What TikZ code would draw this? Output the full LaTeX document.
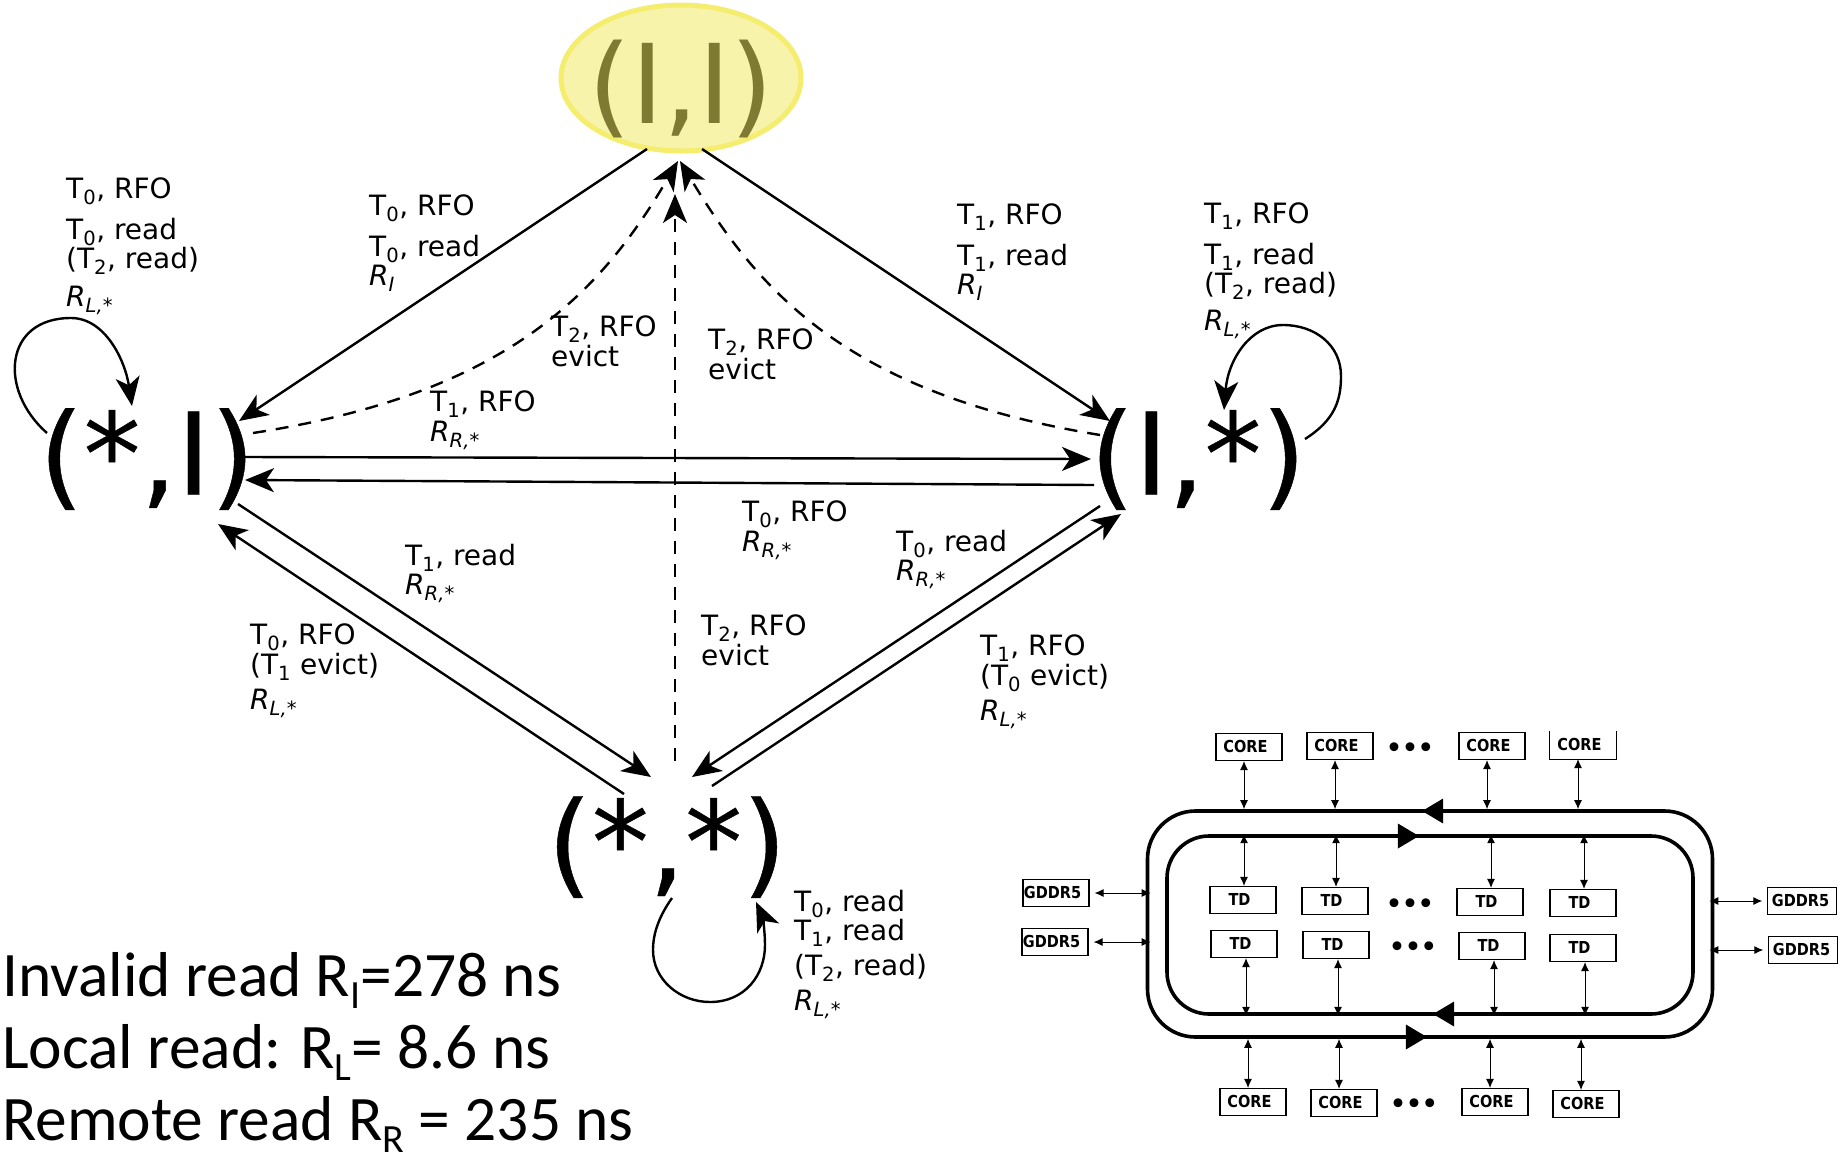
\documentclass[tikz,border=0pt]{standalone}
\usepackage{fontspec}
\setmainfont{DejaVu Sans}
\newfontfamily\notefont{Carlito}
\newfontfamily\boxfont[FakeStretch=0.88]{DejaVu Sans}
\newfontfamily\statefont[FakeBold=0.4]{DejaVu Sans}
\usetikzlibrary{arrows.meta,positioning,shapes.geometric}

\definecolor{glowedge}{HTML}{F5ED6E}
\definecolor{glowfill}{HTML}{F7F3AB}
\definecolor{glowtext}{HTML}{7F7A33}

\newcommand{\Tn}[1]{T\textsubscript{#1}}
\newcommand{\Rn}[1]{\textit{R\textsubscript{#1}}}
\newcommand{\Sn}[1]{\raisebox{-12pt}{\fontsize{40}{40}\selectfont #1}}

\tikzset{
    cpustate/.style={inner sep=0pt,font=\statefont\fontsize{114}{114}\selectfont},
    tran/.style={line width=2.4pt,-{Stealth[length=29pt,width=24pt,inset=8pt]}},
    evict/.style={tran,dash pattern=on 13pt off 10pt},
    lbl/.style={anchor=north west,inner sep=0pt,align=left,font=\fontsize{28}{29.5}\selectfont},
    partbox/.style={draw,line width=1.1pt,inner sep=0pt,minimum width=66pt,minimum height=27pt,
        text height=16pt,text depth=6pt,font=\boxfont\bfseries\fontsize{16.5}{16.5}\selectfont,
        execute at end node={\kern 7pt}},
    ringbox/.style={draw,line width=3.6pt,inner sep=0pt},
    ringtip/.style={isosceles triangle,isosceles triangle stretches,fill=black,inner sep=0pt,
        minimum width=25pt,minimum height=21pt},
    ellipsis/.style={inner sep=0pt,font=\bfseries\fontsize{25}{25}\selectfont},
    link/.style={line width=1pt,{Latex[length=9pt,width=8pt]}-{Latex[length=9pt,width=8pt]}}
}

\begin{document}
\begin{tikzpicture}[%
    x=1pt,y=-1pt,
    on grid
    ]
    \useasboundingbox (0,0) rectangle (1845,1160);

    % states
    \node[ellipse,draw=glowedge,fill=glowfill,line width=5pt,inner sep=0pt,
        minimum width=240pt,minimum height=146pt,
        label={[text=glowtext,inner sep=0pt,yshift=-11pt,font=\fontsize{110}{110}\selectfont]center:(I,I)}] (ii) at (681,78) {};
    \node[cpustate] (ci) [below left=381pt and 534pt of ii] {(*,I)};
    \node[cpustate] (ic) [right=1051pt of ci] {(I,*)};
    \node[cpustate] (cc) [below=769pt of ii,xshift=-14pt] {(*,*)};

    % transitions
    \draw[tran] ([shift={(-34,71)}]ii.center) -- ([shift={(92,-38)}]ci.center);
    \draw[tran] ([shift={(21,71)}]ii.center) -- ([shift={(-88,-38)}]ic.center);
    \draw[tran] ([shift={(98,-2)}]ci.center) -- ([shift={(-107,0)}]ic.center);
    \draw[tran] ([shift={(-104,26)}]ic.center) -- ([shift={(98,21)}]ci.center);
    \draw[tran] ([shift={(91,45)}]ci.center) -- ([shift={(-16,-70)}]cc.center);
    \draw[tran] ([shift={(-43,-53)}]cc.center) -- ([shift={(71,65)}]ci.center);
    \draw[tran] ([shift={(-98,47)}]ic.center) -- ([shift={(25,-70)}]cc.center);
    \draw[tran] ([shift={(45,-61)}]cc.center) -- ([shift={(-77,55)}]ic.center);

    % evictions
    \draw[evict] ([shift={(8,-86)}]cc.center) -- ([shift={(-6,116)}]ii.center);
    \draw[evict] ([shift={(106,-26)}]ci.center) .. controls (506,394) and (600,294) .. ([shift={(-3,83)}]ii.center);
    \draw[evict] ([shift={(-98,-24)}]ic.center) .. controls (850,394) and (760,294) .. ([shift={(-1,83)}]ii.center);

    % loops
    \draw[tran] ([shift={(-100,-26)}]ci.center) .. controls (-2,390) and (4,318) .. (71,318)
        .. controls (105,318) and (125,360) .. ([shift={(-15,-53)}]ci.center);
    \draw[tran] ([shift={(107,-20)}]ic.center) .. controls (1335,420) and (1341,400) .. (1341,376)
        .. controls (1341,345) and (1315,325) .. (1283,325)
        .. controls (1250,325) and (1228,360) .. ([shift={(26,-49)}]ic.center);
    \draw[tran] ([shift={(5,51)}]cc.center) .. controls (660,915) and (653,932) .. (653,950)
        .. controls (653,980) and (680,1002) .. (710,1002)
        .. controls (745,1002) and (765,975) .. (765,945)
        .. controls (765,930) and (762,915) .. ([shift={(89,55)}]cc.center);

    % labels
    \node[lbl] (la) at (66,178) {\Tn{0}, RFO\\[11pt]\Tn{0}, read\\(\Tn{2}, read)\\[8pt]\Rn{L,*}};
    \node[lbl] (lb) at (369,195) {\Tn{0}, RFO\\[11pt]\Tn{0}, read\\\Rn{I}};
    \node[lbl] (lc) at (957,204) {\Tn{1}, RFO\\[11pt]\Tn{1}, read\\\Rn{I}};
    \node[lbl] (ld) at (1204,203) {\Tn{1}, RFO\\[11pt]\Tn{1}, read\\(\Tn{2}, read)\\[7pt]\Rn{L,*}};
    \node[lbl] (le) at (551,316) {\Tn{2}, RFO\\evict};
    \node[lbl] (lf) at (708,329) {\Tn{2}, RFO\\evict};
    \node[lbl] (lg) at (430,391) {\Tn{1}, RFO\\\Rn{R,*}};
    \node[lbl] (lh) at (742,501) {\Tn{0}, RFO\\\Rn{R,*}};
    \node[lbl] (li) at (405,544) {\Tn{1}, read\\\Rn{R,*}};
    \node[lbl] (lj) at (896,530) {\Tn{0}, read\\\Rn{R,*}};
    \node[lbl] (lk) at (250,624) {\Tn{0}, RFO\\(\Tn{1} evict)\\[6pt]\Rn{L,*}};
    \node[lbl] (ll) at (980,635) {\Tn{1}, RFO\\(\Tn{0} evict)\\[6pt]\Rn{L,*}};
    \node[lbl] (lm) at (701,615) {\Tn{2}, RFO\\evict};
    \node[lbl] (ln) at (794,890) {\Tn{0}, read\\\Tn{1}, read\\[5pt](\Tn{2}, read)\\[6pt]\Rn{L,*}};

    % latencies
    \node[anchor=west,inner sep=0pt,align=left,font=\notefont\fontsize{63.4}{72}\selectfont] (times) at (2,1052)
        {Invalid read R\Sn{I}=278 ns\\Local read: R\Sn{L}= 8.6 ns\\Remote read R\Sn{R} = 235 ns};

    % rings
    \node[ringbox,rounded corners=48pt,minimum width=565pt,minimum height=226pt] (outer) at (1430,924) {};
    \node[ringbox,rounded corners=42pt,minimum width=526pt,minimum height=178pt] (inner) at (1430,925) {};
    \node[ringtip,shape border rotate=180] (tipa) at (1436,811) {};
    \node[ringtip] (tipb) at (1405,836) {};
    \node[ringtip,shape border rotate=180] (tipc) at (1447,1014) {};
    \node[ringtip] (tipd) at (1413,1037) {};

    % parts
    \foreach \name/\x/\y in {ct1/1249/747,ct2/1340/746,ct3/1492/746}
        \node[partbox] (\name) at (\x,\y) {CORE};
    \node[partbox,draw=none] (ct4) at (1583,745) {CORE};
    \draw[line width=1.1pt] (ct4.north west) -- (ct4.south west) -- (ct4.south east) -- (ct4.north east);
    \foreach \name/\x/\y in {cb1/1253/1102,cb2/1344/1103,cb3/1495/1102,cb4/1586/1104}
        \node[partbox] (\name) at (\x,\y) {CORE};
    \foreach \name/\x/\y in {tu1/1243/900,tu2/1335/901,tu3/1490/902,tu4/1583/903,
        tl1/1244/944,tl2/1336/945,tl3/1492/946,tl4/1583/948}
        \node[partbox] (\name) at (\x,\y) {TD};
    \foreach \name/\x/\y in {gl1/1056/893,gl2/1055/942}
        \node[partbox] (\name) at (\x,\y) {GDDR5};
    \foreach \name/\x/\y in {gr1/1802/901,gr2/1803/950}
        \node[partbox] (\name) at (\x,\y) {\kern 4pt GDDR5};

    \node[ellipsis] (dota) at (1410,750) {•••};
    \node[ellipsis] (dotb) at (1410,906) {•••};
    \node[ellipsis] (dotc) at (1413,949) {•••};
    \node[ellipsis] (dotd) at (1414,1106) {•••};

    % links
    \foreach \name in {ct1,ct2,ct3,ct4}
        \draw[link] ([xshift=-5pt]\name.south) -- ([xshift=-5pt]\name.south |- outer.north);
    \foreach \name in {cb1,cb2,cb3,cb4}
        \draw[link] ([xshift=-5pt]\name.north) -- ([xshift=-5pt]\name.north |- outer.south);
    \foreach \name in {tu1,tu2,tu3,tu4}
        \draw[link] ([xshift=1pt]\name.north) -- ([xshift=1pt]\name.north |- inner.north);
    \foreach \name in {tl1,tl2,tl3,tl4}
        \draw[link] ([xshift=2pt]\name.south) -- ([xshift=2pt]\name.south |- inner.south);
    \foreach \name in {gl1,gl2}
        \draw[link] ([xshift=5pt]\name.east) -- ([xshift=5pt]\name.east -| outer.west);
    \foreach \name in {gr1,gr2}
        \draw[link] ([xshift=-5pt]\name.west) -- ([xshift=-5pt]\name.west -| outer.east);

\end{tikzpicture}
\end{document}
